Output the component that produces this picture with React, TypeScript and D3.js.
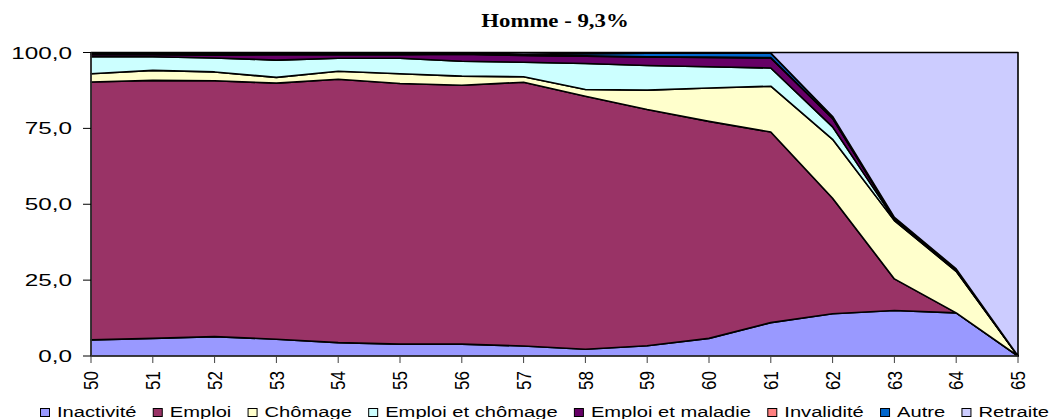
import React, { useMemo } from 'react';
import * as d3 from 'd3';

const ages = [50, 51, 52, 53, 54, 55, 56, 57, 58, 59, 60, 61, 62, 63, 64, 65];
const inactivite = [5.3, 5.8, 6.4, 5.5, 4.4, 3.9, 3.9, 3.3, 2.2, 3.4, 5.8, 11.0, 13.9, 15.0, 14.2, 0];
const emploi = [85.0, 85.0, 84.3, 84.4, 86.8, 85.9, 85.3, 86.9, 83.4, 77.8, 71.5, 62.8, 38.1, 10.4, 0.0, 0];
const chomage = [2.7, 3.3, 2.9, 1.9, 2.6, 3.2, 3.0, 1.8, 2.2, 6.4, 11.0, 15.1, 19.4, 19.2, 13.7, 0];
const emploiChomage = [5.6, 4.5, 4.6, 5.7, 4.3, 5.1, 4.9, 4.8, 8.6, 8.1, 7.0, 6.0, 4.1, 0.4, 0.3, 0];
const emploiMaladie = [0.7, 0.7, 1.0, 1.8, 1.2, 1.2, 2.3, 2.2, 2.4, 2.8, 3.1, 3.3, 2.8, 0.4, 0.3, 0];
const invalidite = [0.1, 0.1, 0.1, 0.1, 0.1, 0.1, 0.1, 0.1, 0.1, 0.1, 0.1, 0.1, 0.1, 0.1, 0.1, 0];
const autre = [0.3, 0.3, 0.3, 0.2, 0.2, 0.2, 0.2, 0.3, 0.7, 1.2, 1.3, 1.5, 0.5, 0.2, 0.1, 0];
const retraite = [0.3, 0.3, 0.4, 0.4, 0.4, 0.4, 0.3, 0.6, 0.4, 0.2, 0.2, 0.2, 21.1, 54.3, 71.3, 100];

const seriesNames = ['Inactivité', 'Emploi', 'Chômage', 'Emploi et chômage', 'Emploi et maladie', 'Invalidité', 'Autre', 'Retraite'];
const seriesColors = ['#9999FF', '#993366', '#FFFFCC', '#CCFFFF', '#660066', '#FF8080', '#0066CC', '#CCCCFF'];
const yTicks = [0, 25, 50, 75, 100];
const title = 'Homme - 9,3%';

const W = 1053;
const H = 419;
const FONT = '"Liberation Sans", Arial, sans-serif';

export default function App() {
  const seriesValues = [inactivite, emploi, chomage, emploiChomage, emploiMaladie, invalidite, autre, retraite];
  const rows = ages.map((a, i) => {
    const r: Record<string, number> = { age: a };
    seriesNames.forEach((n, k) => (r[n] = seriesValues[k][i]));
    return r;
  });
  const stack = d3.stack<Record<string, number>>().keys(seriesNames);
  const layers = stack(rows);

  const x = d3.scaleLinear().domain([50, 65]).range([91, 1018]);
  const y = d3.scaleLinear().domain([0, 100]).range([356, 52.5]);
  const area = d3
    .area<d3.SeriesPoint<Record<string, number>>>()
    .x((d) => x(d.data.age))
    .y0((d) => y(d[0]))
    .y1((d) => y(d[1]));

  const legend = useMemo(() => {
    const ctx = document.createElement('canvas').getContext('2d')!;
    const fs = 15.5;
    ctx.font = `${fs}px "Liberation Sans"`;
    const sx = 1.3;
    const widths = seriesNames.map((n) => ctx.measureText(n).width * sx);
    const sq = 10;
    const pad = 7;
    const left = 40;
    const right = 1049;
    const itemW = widths.map((w) => sq + pad + w);
    const total = itemW.reduce((a, b) => a + b, 0);
    const gap = (right - left - total) / (seriesNames.length - 1);
    let cx = left;
    return seriesNames.map((n, i) => {
      const item = { name: n, color: seriesColors[i], x: cx, tx: cx + sq + pad, sx, fs };
      cx += itemW[i] + gap;
      return item;
    });
  }, []);

  return (
    <svg
      width={W}
      height={H}
      style={{ position: 'absolute', left: 0, top: 0, background: '#fff' }}
      fontFamily={FONT}
    >
      <rect x={0} y={0} width={W} height={H} fill="#fff" />
      <text
        transform={`translate(555,27) scale(1.2,1)`}
        textAnchor="middle"
        fontFamily='"Liberation Serif", "Times New Roman", serif'
        fontWeight="bold"
        fontSize={19}
      >
        {title}
      </text>
      {layers.map((layer, i) => (
        <path
          key={layer.key}
          d={area(layer) || ''}
          fill={seriesColors[i]}
          stroke="#000"
          strokeWidth={1.6}
          strokeLinejoin="round"
        />
      ))}
      {/* axes */}
      <line x1={91} x2={91} y1={y(100)} y2={y(0)} stroke="#404040" strokeWidth={1.2} />
      <line x1={91} x2={1018} y1={y(0)} y2={y(0)} stroke="#404040" strokeWidth={1.2} />
      {yTicks.map((t) => (
        <g key={t}>
          <line x1={83} x2={91} y1={y(t)} y2={y(t)} stroke="#000" strokeWidth={1} />
          <text
            transform={`translate(72,${y(t) + 6}) scale(1.43,1)`}
            textAnchor="end"
            fontSize={17}
          >
            {d3.format('.1f')(t).replace('.', ',')}
          </text>
        </g>
      ))}
      {ages.map((a) => (
        <g key={a}>
          <line x1={x(a)} x2={x(a)} y1={y(0)} y2={y(0) + 7} stroke="#404040" strokeWidth={1} />
          <text
            transform={`translate(${x(a)},371) scale(1.2,1) rotate(-90)`}
            textAnchor="end"
            dy="0.35em"
            fontSize={17}
          >
            {a}
          </text>
        </g>
      ))}
      {legend.map((l) => (
        <g key={l.name}>
          <rect x={l.x + 0.5} y={408.5} width={9} height={8} fill={l.color} stroke="#000" strokeWidth={1} />
          <text transform={`translate(${l.tx},417) scale(${l.sx},1)`} fontSize={l.fs}>
            {l.name}
          </text>
        </g>
      ))}
    </svg>
  );
}
